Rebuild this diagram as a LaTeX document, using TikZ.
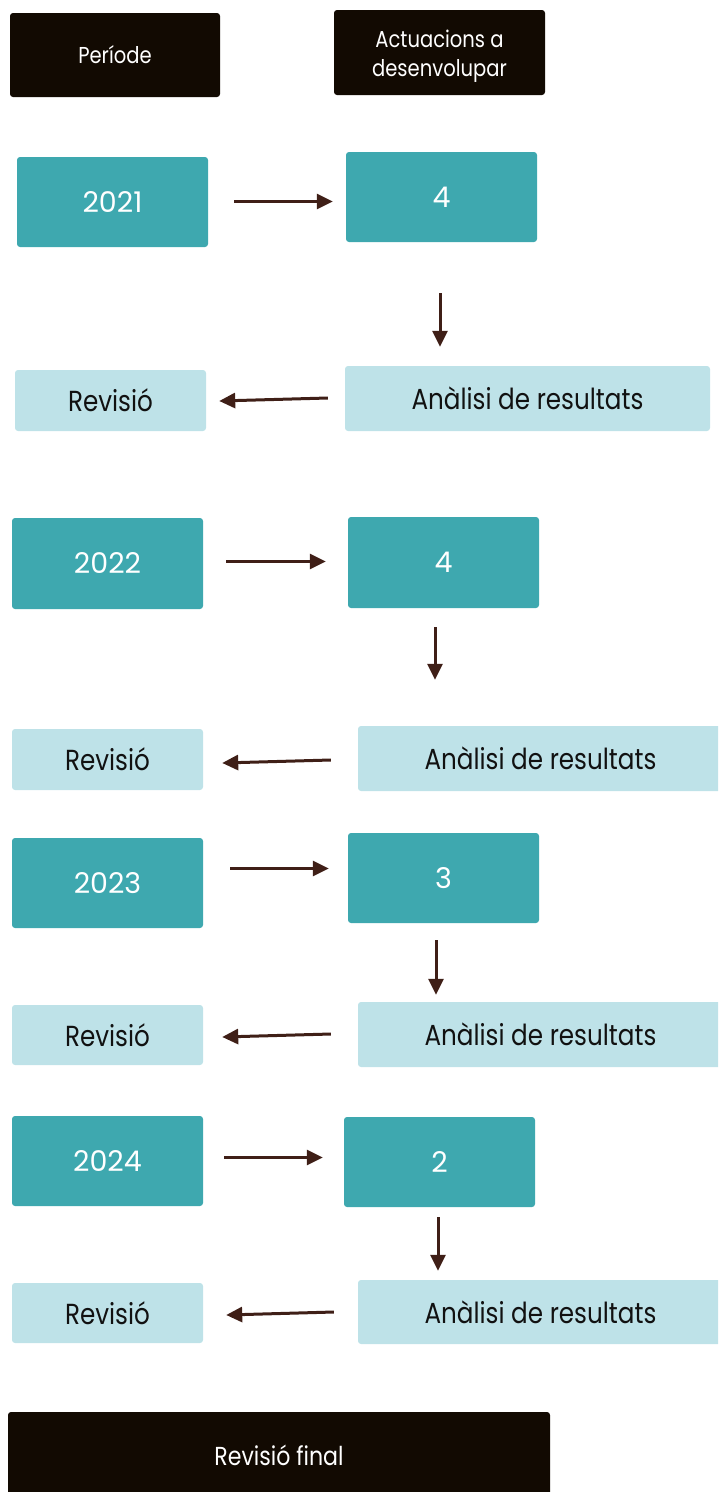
\documentclass[tikz,border=0pt]{standalone}
\usepackage{fontspec}
\setmainfont{Poppins}[FakeStretch=0.85]
\newfontfamily\digfont{Poppins}
\usetikzlibrary{arrows.meta,calc}
\definecolor{hdr}{HTML}{120A02}
\definecolor{teal}{HTML}{3EA8AF}
\definecolor{light}{HTML}{BEE2E8}
\definecolor{arrc}{HTML}{3F1F17}
\definecolor{txt}{HTML}{111111}
\tikzset{
  boxbase/.style={rectangle, rounded corners=3pt, inner sep=0pt, align=center},
  hdrbox/.style={boxbase, fill=hdr, text=white, font=\fontsize{23}{29}\selectfont},
  hdrtext/.style={inner sep=0pt, align=center, text=white, font=\fontsize{23}{29}\selectfont},
  yearbox/.style={boxbase, fill=teal, text=white, minimum width=191pt, minimum height=90pt, font=\digfont\fontsize{28.5}{32}\selectfont},
  revbox/.style={boxbase, fill=light, text=txt, minimum width=191pt, minimum height=61pt, font=\fontsize{29}{32}\selectfont},
  anbox/.style={boxbase, fill=light, text=txt, minimum width=365pt, minimum height=65pt, font=\fontsize{29}{32}\selectfont},
  arr/.style={draw=arrc, line width=3pt, -{Triangle[length=16pt,width=15pt]}},
}
\begin{document}
\begin{tikzpicture}[x=1pt,y=-1pt]
\useasboundingbox (0,0) rectangle (718,1492);
\begin{scope}
\clip (0,0) rectangle (718,1492);
% headers
\node[hdrbox, minimum width=210pt, minimum height=84pt] (hp) at (115,55) {Període};
\node[hdrbox, minimum width=211pt, minimum height=85pt] (ha) at (439.5,52.5) {};
\node[hdrtext] (hat) at ($(ha.center)+(0,3.5)$) {Actuacions a\\desenvolupar};
% row 2021
\node[yearbox] (y21) at (112.5,202) {2021};
\node[yearbox] (a21) at (441.5,197) {4};
\node[revbox] (r21) at (110.5,400.5) {Revisió};
\node[anbox] (n21) at (527.5,398.5) {Anàlisi de resultats};
% row 2022
\node[yearbox, minimum height=91pt] (y22) at (107.5,563.5) {2022};
\node[yearbox, minimum height=91pt] (a22) at (443.5,562.5) {4};
\node[revbox] (r22) at (107.5,759.5) {Revisió};
\node[anbox] (n22) at (540.5,758.5) {Anàlisi de resultats};
% row 2023
\node[yearbox] (y23) at (107.5,883) {2023};
\node[yearbox] (a23) at (443.5,878) {3};
\node[revbox, minimum height=60pt] (r23) at (107.5,1035) {Revisió};
\node[anbox] (n23) at (540.5,1034.5) {Anàlisi de resultats};
% row 2024
\node[yearbox] (y24) at (107.5,1161) {2024};
\node[yearbox] (a24) at (439.5,1162) {2};
\node[revbox, minimum height=60pt] (r24) at (107.5,1313) {Revisió};
\node[anbox, minimum height=64pt] (n24) at (540.5,1312) {Anàlisi de resultats};
% final
\node[hdrbox, minimum width=542pt, minimum height=86pt, font=\fontsize{26}{30}\selectfont] (fin) at (279,1455) {Revisió final};
\end{scope}
% arrows row 2021
\draw[arr] ($(y21.east)+(26,-0.5)$) -- ($(a21.west)+(-13,4.5)$);
\draw[arr] ($(a21.south)+(-1.5,51)$) -- ($(n21.north)+(-87.5,-19)$);
\draw[arr] ($(n21.west)+(-17,-0.5)$) -- ($(r21.east)+(13,0.5)$);
% arrows row 2022
\draw[arr] ($(y22.east)+(23,-2)$) -- ($(a22.west)+(-22,-1)$);
\draw[arr] ($(a22.south)+(-8.5,19)$) -- ($(n22.north)+(-105.5,-46)$);
\draw[arr] ($(n22.west)+(-27,1.5)$) -- ($(r22.east)+(19,3.5)$);
% arrows row 2023
\draw[arr] ($(y23.east)+(27,-14.5)$) -- ($(a23.west)+(-19,-9.5)$);
\draw[arr] ($(a23.south)+(-7.5,17)$) -- ($(n23.north)+(-104.5,-7)$);
\draw[arr] ($(n23.west)+(-27,-0.5)$) -- ($(r23.east)+(19,2)$);
% arrows row 2024
\draw[arr] ($(y24.east)+(21,-3.5)$) -- ($(a24.west)+(-21,-4.5)$);
\draw[arr] ($(a24.south)+(-1.5,10)$) -- ($(n24.north)+(-102.5,-9)$);
\draw[arr] ($(n24.west)+(-24,0)$) -- ($(r24.east)+(23,2)$);
\end{tikzpicture}
\end{document}
